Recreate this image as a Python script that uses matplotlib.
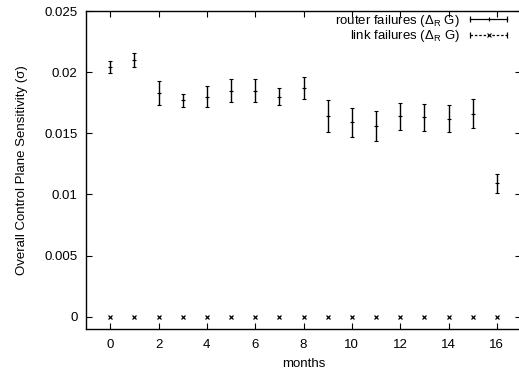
import matplotlib
matplotlib.use("Agg")
import matplotlib.pyplot as plt
from matplotlib.legend_handler import HandlerBase
from matplotlib.lines import Line2D

plt.rcParams["font.family"] = ["Liberation Sans", "DejaVu Sans"]
plt.rcParams["mathtext.fontset"] = "custom"
plt.rcParams["mathtext.rm"] = "Liberation Sans"
plt.rcParams["mathtext.it"] = "Liberation Sans"

# ---- data ----
months = list(range(17))
router = [0.0204, 0.0210, 0.0183, 0.0177, 0.0180, 0.0185, 0.0185, 0.0180, 0.0187,
          0.0164, 0.0159, 0.0156, 0.0164, 0.0163, 0.0162, 0.0166, 0.0109]
router_err = [0.0005, 0.0006, 0.0010, 0.00055, 0.00088, 0.0009, 0.0009, 0.0007, 0.0009,
              0.0013, 0.0012, 0.0012, 0.0011, 0.0011, 0.0011, 0.0012, 0.00077]
link = [0.0] * 17

FS = 9.5


class GnuErr(HandlerBase):
    """gnuplot-like key sample: |--+--| or |--x--|"""
    def __init__(self, mk, ls):
        super().__init__()
        self.mk, self.ls = mk, ls

    def create_artists(self, legend, orig, xd, yd, w, h, fs, trans):
        y = yd + h / 2
        ln = Line2D([xd, xd + w], [y, y], color="k", lw=0.9, ls=self.ls, transform=trans)
        ends = Line2D([xd, xd + w], [y, y], color="k", lw=0, marker="|", ms=4,
                      mew=0.9, transform=trans)
        mid = Line2D([xd + w / 2], [y], color="k", lw=0, marker=self.mk, ms=3.5,
                     mew=0.8, transform=trans)
        return [ln, ends, mid]


fig = plt.figure(figsize=(5.19, 3.75), dpi=100)
ax = fig.add_axes([86 / 519, 1 - 329 / 375, (521 - 86) / 519, (329 - 11) / 375])

ax.errorbar(months, router, yerr=router_err, fmt="+", color="k", ms=3.5, mew=0.8,
            elinewidth=1.0, capsize=1.6, capthick=1.0)
ax.plot(months, link, "x", color="k", ms=3.5, mew=0.9, ls="none")

ax.set_xlim(-1, 17)
ax.set_ylim(-0.001, 0.025)
ax.set_xticks(range(0, 17, 2))
ax.set_yticks([0, 0.005, 0.01, 0.015, 0.02, 0.025])
ax.set_yticklabels(["0", "0.005", "0.01", "0.015", "0.02", "0.025"])
ax.tick_params(direction="in", top=True, right=True, length=4, width=0.8,
               labelsize=FS, pad=6)
ax.tick_params(axis="x", pad=7)
for s in ax.spines.values():
    s.set_linewidth(1.0)

ax.set_xlabel("months", fontsize=FS, labelpad=5)
ax.set_ylabel("Overall Control Plane Sensitivity (σ)", fontsize=FS, labelpad=12)

h1 = Line2D([], [], color="k")
h2 = Line2D([], [], color="k")
ax.legend([h1, h2],
          [r"router failures ($\Delta_{\mathregular{R}}$ G)",
           r"link failures ($\Delta_{\mathregular{R}}$ G)"],
          handler_map={h1: GnuErr("+", "-"), h2: GnuErr("x", (0, (2, 1.5)))},
          loc="upper right", bbox_to_anchor=(507 / 519, 1 - 13 / 375),
          bbox_transform=fig.transFigure, frameon=False, markerfirst=False,
          fontsize=FS, handlelength=2.8, handletextpad=0.8, labelspacing=-0.05,
          borderpad=0, borderaxespad=0)

fig.savefig("out.png", dpi=100)
